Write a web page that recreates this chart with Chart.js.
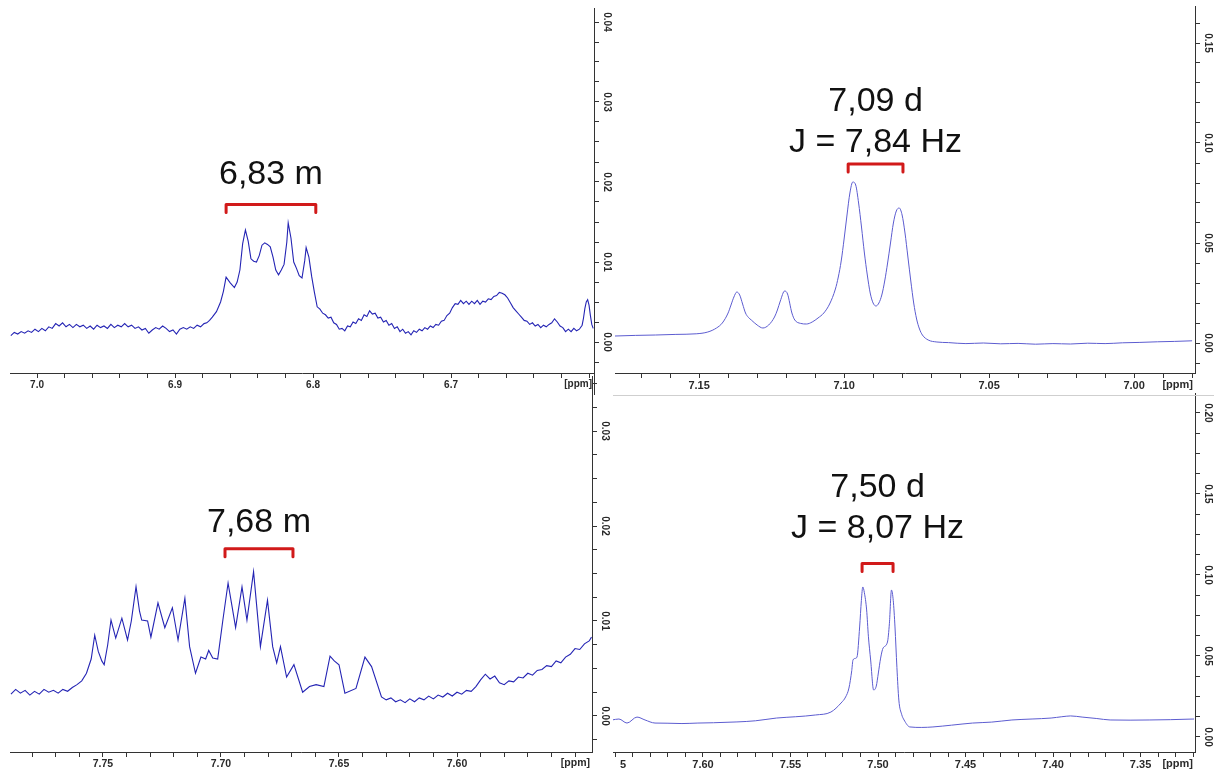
<!DOCTYPE html>
<html>
<head>
<meta charset="utf-8">
<script src="https://cdn.jsdelivr.net/npm/chart.js@4.4.1/dist/chart.umd.min.js"></script>
<style>
  body { margin: 0; background: #fff; width: 1214px; height: 773px; position: relative; overflow: hidden; }
  .panel { position: absolute; overflow: hidden; }
  .panel canvas { position: absolute; }
  .rule { position: absolute; background: #cfcfcf; }
  .mask { position: absolute; background: #fff; }
</style>
</head>
<body>
<div class="panel" style="left:0px;top:0px;width:620px;height:395px"><canvas id="c1" width="620" height="395" style="left:0;top:0"></canvas></div>
<div class="panel" style="left:612px;top:0px;width:602px;height:395px"><canvas id="c2" width="602" height="395" style="left:0;top:0"></canvas></div>
<div class="panel" style="left:0px;top:376px;width:620px;height:397px"><canvas id="c3" width="620" height="397" style="left:0;top:0"></canvas></div>
<div class="panel" style="left:613px;top:376px;width:601px;height:397px"><canvas id="c4" width="624" height="397" style="left:-23px;top:0"></canvas></div>
<div class="mask" style="left:613px;top:757px;width:7px;height:16px"></div>
<div class="rule" style="left:613px;top:395px;width:601px;height:1px"></div>
<script>
// ---- top left: 6,83 m ----
const p1Ppm = [
  7.019, 7.0165, 7.014, 7.0115, 7.009, 7.0065, 7.004, 7.0015, 6.999, 6.9965,
  6.994, 6.9915, 6.989, 6.9865, 6.984, 6.9815, 6.979, 6.9765, 6.974, 6.9715,
  6.969, 6.9665, 6.964, 6.9615, 6.959, 6.9565, 6.954, 6.9515, 6.949, 6.9465,
  6.944, 6.9415, 6.939, 6.9365, 6.934, 6.9315, 6.929, 6.9265, 6.924, 6.9215,
  6.919, 6.9165, 6.914, 6.9115, 6.909, 6.9065, 6.904, 6.9015, 6.899, 6.8965,
  6.894, 6.8915, 6.889, 6.8865, 6.884, 6.8815, 6.879, 6.877, 6.875,
  6.873, 6.870, 6.867, 6.865, 6.863, 6.860, 6.857, 6.855, 6.853, 6.851,
  6.849, 6.847, 6.845, 6.843, 6.841, 6.839, 6.837, 6.835, 6.833, 6.831,
  6.829, 6.827, 6.825, 6.823, 6.821, 6.819, 6.818, 6.816, 6.814, 6.812,
  6.810, 6.808, 6.806, 6.805, 6.803, 6.801, 6.799, 6.797,
  6.795, 6.793, 6.791, 6.789, 6.787, 6.785, 6.783, 6.781, 6.779, 6.777,
  6.775, 6.773, 6.771, 6.769, 6.767, 6.765, 6.763, 6.761, 6.759, 6.757,
  6.755, 6.753, 6.751, 6.749, 6.747, 6.745, 6.743, 6.741, 6.739, 6.737,
  6.735, 6.733, 6.731, 6.729, 6.727, 6.725, 6.723, 6.721, 6.719, 6.717,
  6.715, 6.713, 6.711, 6.709, 6.707, 6.705, 6.703, 6.701, 6.699, 6.697,
  6.695, 6.693, 6.691, 6.689, 6.687, 6.685, 6.683, 6.681, 6.679, 6.677,
  6.675, 6.673, 6.671, 6.669, 6.667, 6.665, 6.663, 6.661, 6.659, 6.657,
  6.655, 6.653, 6.651, 6.649, 6.647, 6.645, 6.643, 6.641, 6.639, 6.637,
  6.635, 6.633, 6.631, 6.629, 6.627, 6.625, 6.623, 6.621, 6.619, 6.617,
  6.615, 6.613, 6.611, 6.609, 6.607, 6.605, 6.604, 6.603, 6.602, 6.601,
  6.600, 6.599, 6.598, 6.597
];
const p1Int = [
  0.0008, 0.0012, 0.0010, 0.0013, 0.0011, 0.0014, 0.0012, 0.0016, 0.0013, 0.0017,
  0.0014, 0.0019, 0.0017, 0.0023, 0.0020, 0.0024, 0.0019, 0.0022, 0.0018, 0.0022,
  0.0019, 0.0021, 0.0017, 0.0020, 0.0016, 0.0021, 0.0018, 0.0020, 0.0017, 0.0022,
  0.0018, 0.0021, 0.0019, 0.0023, 0.0019, 0.0021, 0.0017, 0.0019, 0.0015, 0.0017,
  0.0011, 0.0015, 0.0018, 0.0016, 0.0020, 0.0017, 0.0013, 0.0015, 0.0010, 0.0016,
  0.0018, 0.0016, 0.0019, 0.0017, 0.0021, 0.0019, 0.0023, 0.0024, 0.0027,
  0.0031, 0.0038, 0.0050, 0.0063, 0.0081, 0.0074, 0.0068, 0.0075, 0.0090, 0.0123,
  0.0140, 0.0126, 0.0104, 0.0101, 0.0100, 0.0108, 0.0121, 0.0124, 0.0122, 0.0119,
  0.0106, 0.0090, 0.0084, 0.0090, 0.0097, 0.0125, 0.0149, 0.0130, 0.0100, 0.0092,
  0.0083, 0.0080, 0.0102, 0.0118, 0.0106, 0.0082, 0.0062, 0.0044,
  0.0041, 0.0036, 0.0034, 0.0030, 0.0031, 0.0024, 0.0022, 0.0016, 0.0017, 0.0014,
  0.0020, 0.0019, 0.0025, 0.0023, 0.0029, 0.0027, 0.0034, 0.0032, 0.0039, 0.0035,
  0.0036, 0.0030, 0.0031, 0.0025, 0.0027, 0.0021, 0.0023, 0.0017, 0.0019, 0.0013,
  0.0016, 0.0011, 0.0013, 0.0009, 0.0014, 0.0012, 0.0016, 0.0014, 0.0018, 0.0016,
  0.0020, 0.0018, 0.0022, 0.0021, 0.0026, 0.0027, 0.0033, 0.0036, 0.0043, 0.0048,
  0.0047, 0.0052, 0.0048, 0.0051, 0.0047, 0.0051, 0.0048, 0.0052, 0.0047, 0.0051,
  0.0050, 0.0054, 0.0053, 0.0057, 0.0058, 0.0062, 0.0061, 0.0059, 0.0055, 0.0049,
  0.0043, 0.0039, 0.0035, 0.0031, 0.0027, 0.0026, 0.0022, 0.0024, 0.0020, 0.0022,
  0.0018, 0.0021, 0.0019, 0.0022, 0.0024, 0.0029, 0.0025, 0.0020, 0.0018, 0.0013,
  0.0016, 0.0013, 0.0017, 0.0014, 0.0016, 0.0021, 0.0030, 0.0042, 0.0050, 0.0053,
  0.0046, 0.0033, 0.0022, 0.0017
];
const p1XLabels = ['7.0', '6.9', '6.8', '6.7'];
const p1YLabels = ['0.00', '0.01', '0.02', '0.03', '0.04'];
const p1Note = ['6,83 m'];
const p1Range = [6.863, 6.798, 0.0172];

// ---- top right: 7,09 d ----
const p2Ppm = [
  7.179, 7.172, 7.165, 7.158, 7.151, 7.147, 7.144, 7.142, 7.140, 7.139,
  7.138, 7.137, 7.136, 7.135, 7.134, 7.133, 7.132, 7.130, 7.128, 7.126,
  7.124, 7.123, 7.122, 7.1205, 7.1195, 7.118, 7.117, 7.115, 7.113, 7.111,
  7.109, 7.107, 7.105, 7.103, 7.102, 7.101, 7.100, 7.099, 7.098, 7.097,
  7.096, 7.095, 7.094, 7.093, 7.092, 7.091, 7.090, 7.089, 7.088, 7.087,
  7.086, 7.085, 7.084, 7.083, 7.082, 7.081, 7.080, 7.079, 7.078, 7.077,
  7.076, 7.075, 7.074, 7.073, 7.071, 7.068, 7.064, 7.058, 7.052, 7.046,
  7.040, 7.034, 7.028, 7.022, 7.016, 7.010, 7.004, 6.998, 6.992, 6.986,
  6.980
];
const p2Int = [
  0.0035, 0.0038, 0.0040, 0.0043, 0.0046, 0.0055, 0.0075, 0.0100, 0.0150, 0.0190,
  0.0230, 0.0255, 0.0240, 0.0195, 0.0150, 0.0128, 0.0115, 0.0090, 0.0075, 0.0090,
  0.0130, 0.0165, 0.0210, 0.0260, 0.0245, 0.0150, 0.0115, 0.0098, 0.0095, 0.0105,
  0.0125, 0.0150, 0.0195, 0.0270, 0.0330, 0.0410, 0.0520, 0.0640, 0.0750, 0.0805,
  0.0790, 0.0700, 0.0580, 0.0450, 0.0340, 0.0250, 0.0200, 0.0185, 0.0200, 0.0240,
  0.0310, 0.0400, 0.0500, 0.0600, 0.0660, 0.0675, 0.0640, 0.0550, 0.0430, 0.0310,
  0.0200, 0.0120, 0.0070, 0.0040, 0.0015, 0.0005, 0.0002, -0.0003, 0.0000, -0.0004,
  -0.0002, -0.0006, -0.0003, -0.0005, -0.0001, -0.0003, 0.0001, 0.0003, 0.0006, 0.0008,
  0.0011
];
const p2XLabels = ['7.15', '7.10', '7.05', '7.00'];
const p2YLabels = ['0.00', '0.05', '0.10', '0.15'];
const p2Note = ['7,09 d', 'J = 7,84 Hz'];
const p2Range = [7.0986, 7.0797, 0.0895];

// ---- bottom left: 7,68 m ----
const p3Ppm = [
  7.789, 7.787, 7.785, 7.783, 7.781, 7.779, 7.777, 7.775, 7.773, 7.771,
  7.769, 7.767, 7.765, 7.763, 7.761, 7.759, 7.757,
  7.755, 7.7535, 7.752, 7.7505, 7.7495, 7.748, 7.7466, 7.7446, 7.742, 7.7396,
  7.738, 7.736, 7.7345, 7.7336, 7.7311, 7.7297, 7.7267, 7.7238, 7.7206, 7.7182,
  7.7153, 7.7133, 7.7108, 7.7085, 7.7065, 7.7052, 7.7035, 7.7014, 7.6992, 7.697,
  7.6955, 7.6938, 7.6911, 7.689, 7.6862, 7.6833, 7.6803, 7.6781, 7.6764, 7.6748,
  7.6722, 7.6691, 7.6654, 7.6625, 7.6597, 7.6564, 7.6538, 7.652, 7.650, 7.6475,
  7.6428, 7.639, 7.6362,
  7.632, 7.630, 7.628, 7.626, 7.624, 7.622, 7.620, 7.618, 7.616, 7.614,
  7.612, 7.610, 7.608, 7.606, 7.604, 7.602, 7.600, 7.598, 7.596, 7.594,
  7.592, 7.590, 7.588, 7.586, 7.584, 7.582, 7.580, 7.578, 7.576, 7.574,
  7.572, 7.570, 7.568, 7.566, 7.564, 7.562, 7.560, 7.558, 7.556, 7.554,
  7.552, 7.550, 7.548, 7.546, 7.544, 7.543
];
const p3Int = [
  0.0023, 0.0028, 0.0024, 0.0027, 0.0022, 0.0026, 0.0023, 0.0028, 0.0025, 0.0027,
  0.0024, 0.0028, 0.0026, 0.0030, 0.0033, 0.0037, 0.0045,
  0.0060, 0.0085, 0.0068, 0.0058, 0.0054, 0.0075, 0.0101, 0.0082, 0.0103, 0.0080,
  0.0100, 0.0136, 0.0110, 0.0101, 0.0100, 0.0083, 0.0119, 0.0093, 0.0114, 0.0080,
  0.0124, 0.0073, 0.0045, 0.0062, 0.0060, 0.0069, 0.0061, 0.0060, 0.0101, 0.0140,
  0.0118, 0.0093, 0.0136, 0.0101, 0.0152, 0.0073, 0.0122, 0.0073, 0.0056, 0.0073,
  0.0041, 0.0054, 0.0025, 0.0031, 0.0033, 0.0031, 0.0063, 0.0058, 0.0054, 0.0024,
  0.0029, 0.0062, 0.0052,
  0.0020, 0.0017, 0.0019, 0.0015, 0.0017, 0.0014, 0.0018, 0.0015, 0.0019, 0.0017,
  0.0021, 0.0018, 0.0022, 0.0020, 0.0024, 0.0021, 0.0025, 0.0023, 0.0027, 0.0026,
  0.0031, 0.0038, 0.0044, 0.0039, 0.0042, 0.0035, 0.0033, 0.0037, 0.0036, 0.0041,
  0.0040, 0.0045, 0.0043, 0.0048, 0.0049, 0.0053, 0.0052, 0.0058, 0.0056, 0.0062,
  0.0065, 0.0071, 0.0070, 0.0076, 0.0079, 0.0083
];
const p3XLabels = ['7.75', '7.70', '7.65', '7.60'];
const p3YLabels = ['0.00', '0.01', '0.02', '0.03'];
const p3Note = ['7,68 m'];
const p3Range = [7.6983, 7.6695, 0.0176];

// ---- bottom right: 7,50 d ----
const p4Ppm = [
  7.652, 7.648, 7.6434, 7.6377, 7.6331, 7.6274, 7.620, 7.612, 7.6029, 7.594,
  7.5806, 7.570, 7.558, 7.547, 7.5356, 7.5269, 7.5211, 7.5185, 7.5166, 7.5150,
  7.5143, 7.513, 7.512, 7.5105, 7.5095, 7.5087, 7.5078, 7.5065, 7.5055, 7.5042,
  7.5025, 7.5010, 7.4998, 7.4985, 7.4971, 7.4946, 7.4935, 7.4923, 7.4913, 7.4903,
  7.4892, 7.4881, 7.4865, 7.4851, 7.4818, 7.475, 7.4686, 7.458, 7.446, 7.435,
  7.4235, 7.412, 7.4011, 7.395, 7.390, 7.3834, 7.375, 7.3674, 7.356, 7.3451,
  7.333, 7.3194
];
const p4Int = [
  0.0105, 0.0111, 0.0086, 0.0123, 0.0105, 0.0086, 0.0085, 0.0083, 0.0086, 0.0088,
  0.0093, 0.0100, 0.0117, 0.0125, 0.0136, 0.0154, 0.0210, 0.0247, 0.0302, 0.0410,
  0.0475, 0.0485, 0.0494, 0.0679, 0.0843, 0.0926, 0.0891, 0.0784, 0.0622, 0.0475,
  0.0290, 0.0314, 0.0395, 0.0487, 0.0549, 0.0586, 0.0699, 0.0907, 0.0843, 0.0679,
  0.0429, 0.0228, 0.0140, 0.0105, 0.0062, 0.0059, 0.0062, 0.0073, 0.0086, 0.0092,
  0.0105, 0.0111, 0.0117, 0.0125, 0.0130, 0.0123, 0.0114, 0.0105, 0.0104, 0.0105,
  0.0107, 0.0111
];
const p4XLabels = ['7.65', '7.60', '7.55', '7.50', '7.45', '7.40', '7.35'];
const p4YLabels = ['0.00', '0.05', '0.10', '0.15', '0.20'];
const p4Note = ['7,50 d', 'J = 8,07 Hz'];
const p4Range = [7.5091, 7.4914, 0.107];

const FONT = '"Liberation Sans", Arial, sans-serif';
const near = (v, list) => list.find(l => Math.abs(v - parseFloat(l)) < 1e-7);

// tick marks at every whole multiple of the step inside the axis range
function stepTicks(lo, hi, step) {
  const out = [];
  for (let k = Math.ceil(lo / step - 1e-9); k * step <= hi + 1e-9; k++) {
    out.push({ value: +(k * step).toFixed(6) });
  }
  return out;
}

function spectrum(id, cfg) {
  const decor = {
    id: 'decor',
    afterDraw(chart) {
      const ctx = chart.ctx;
      const xs = chart.scales.x;
      const ys = chart.scales.y;
      ctx.save();
      // rotated intensity labels on the right axis
      ctx.fillStyle = '#2a2a2a';
      ctx.font = 'bold 10px ' + FONT;
      ctx.textAlign = 'center';
      ctx.textBaseline = 'middle';
      ys.ticks.forEach(t => {
        const lab = near(t.value, cfg.yLabels);
        if (lab === undefined) return;
        ctx.save();
        ctx.translate(ys.left + 13, ys.getPixelForValue(t.value));
        ctx.rotate(Math.PI / 2);
        ctx.fillText(lab, 0, 0);
        ctx.restore();
      });
      // unit at the end of the ppm axis
      ctx.font = 'bold ' + cfg.tickSize + 'px ' + FONT;
      ctx.textAlign = 'right';
      ctx.textBaseline = 'top';
      ctx.fillText('[ppm]', xs.right - 2, xs.top + 6);
      // axis line carried on below the ppm axis
      if (cfg.axisTail) {
        ctx.strokeStyle = '#333';
        ctx.lineWidth = 1;
        ctx.beginPath();
        ctx.moveTo(ys.left + 0.5, ys.bottom);
        ctx.lineTo(ys.left + 0.5, ys.bottom + cfg.axisTail);
        ctx.stroke();
      }
      // multiplet bracket and label
      const x0 = xs.getPixelForValue(cfg.range[0]);
      const x1 = xs.getPixelForValue(cfg.range[1]);
      const yb = ys.getPixelForValue(cfg.range[2]);
      ctx.strokeStyle = '#d11a1a';
      ctx.lineWidth = 3;
      ctx.lineJoin = 'round';
      ctx.lineCap = 'round';
      ctx.beginPath();
      ctx.moveTo(x0, yb + 8);
      ctx.lineTo(x0, yb);
      ctx.lineTo(x1, yb);
      ctx.lineTo(x1, yb + 8);
      ctx.stroke();
      ctx.fillStyle = '#111';
      ctx.font = '34px ' + FONT;
      ctx.textAlign = 'center';
      ctx.textBaseline = 'alphabetic';
      const n = cfg.note.length;
      cfg.note.forEach((line, i) => {
        ctx.fillText(line, (x0 + x1) / 2, yb - cfg.gap - (n - 1 - i) * 41);
      });
      ctx.restore();
    }
  };

  new Chart(document.getElementById(id), {
    type: 'line',
    data: {
      datasets: [{
        data: cfg.ppm.map((p, i) => ({ x: p, y: cfg.val[i] })),
        borderColor: cfg.color,
        borderWidth: cfg.lw,
        pointRadius: 0,
        tension: cfg.smooth ? 0.4 : 0,
        cubicInterpolationMode: cfg.smooth ? 'monotone' : 'default',
        fill: false
      }]
    },
    options: {
      responsive: false,
      animation: false,
      events: [],
      layout: { padding: cfg.pad },
      plugins: { legend: { display: false }, tooltip: { enabled: false } },
      scales: {
        x: {
          type: 'linear',
          reverse: true,
          min: cfg.xMin,
          max: cfg.xMax,
          afterBuildTicks: s => { s.ticks = stepTicks(s.min, s.max, cfg.xStep); },
          afterFit: s => { s.height = cfg.xH; },
          border: { color: '#333', width: 1 },
          grid: { drawOnChartArea: false, tickLength: 5, tickColor: '#333' },
          ticks: {
            autoSkip: false,
            maxRotation: 0,
            minRotation: 0,
            padding: 1,
            color: '#2a2a2a',
            font: { family: FONT, size: cfg.tickSize, weight: 'bold' },
            callback: v => near(v, cfg.xLabels) || ''
          }
        },
        y: {
          type: 'linear',
          position: 'right',
          min: cfg.yMin,
          max: cfg.yMax,
          afterBuildTicks: s => { s.ticks = stepTicks(s.min, s.max, cfg.yStep); },
          afterFit: s => { s.width = cfg.yW; },
          border: { color: '#333', width: 1 },
          grid: { drawOnChartArea: false, tickLength: 5, tickColor: '#333' },
          ticks: { display: false }
        }
      }
    },
    plugins: [decor]
  });
}

spectrum('c1', {
  ppm: p1Ppm, val: p1Int, xLabels: p1XLabels, yLabels: p1YLabels, note: p1Note, range: p1Range,
  xMin: 6.5964, xMax: 7.0196, xStep: 0.02, yMin: -0.003875, yMax: 0.04175, yStep: 0.0025,
  pad: { left: 10, top: 8, right: 0, bottom: 0 }, xH: 22, yW: 26, tickSize: 10,
  color: '#2424b4', lw: 1.1, smooth: false, gap: 20, axisTail: 22
});
spectrum('c2', {
  ppm: p2Ppm, val: p2Int, xLabels: p2XLabels, yLabels: p2YLabels, note: p2Note, range: p2Range,
  xMin: 6.979, xMax: 7.179, xStep: 0.01, yMin: -0.015, yMax: 0.1685, yStep: 0.01,
  pad: { left: 3, top: 6, right: 0, bottom: 0 }, xH: 22, yW: 19, tickSize: 11,
  color: '#5c5cd0', lw: 1, smooth: true, gap: 12, axisTail: 0
});
spectrum('c3', {
  ppm: p3Ppm, val: p3Int, xLabels: p3XLabels, yLabels: p3YLabels, note: p3Note, range: p3Range,
  xMin: 7.5428, xMax: 7.7894, xStep: 0.01, yMin: -0.00379, yMax: 0.03579, yStep: 0.0025,
  pad: { left: 10, top: 0, right: 0, bottom: 0 }, xH: 21, yW: 28, tickSize: 10.5,
  color: '#2424b4', lw: 1.1, smooth: false, gap: 17, axisTail: 0
});
spectrum('c4', {
  ppm: p4Ppm, val: p4Int, xLabels: p4XLabels, yLabels: p4YLabels, note: p4Note, range: p4Range,
  xMin: 7.3189, xMax: 7.6514, xStep: 0.01, yMin: -0.00926, yMax: 0.2123, yStep: 0.0125,
  pad: { left: 23, top: 17, right: 0, bottom: 0 }, xH: 21, yW: 19, tickSize: 11,
  color: '#5c5cd0', lw: 1, smooth: true, gap: 26, axisTail: 0
});
</script>
</body>
</html>
